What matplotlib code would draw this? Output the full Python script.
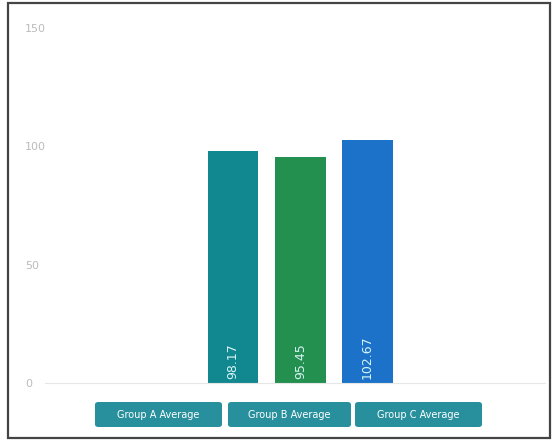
import matplotlib
matplotlib.use("Agg")
import matplotlib.pyplot as plt
from matplotlib.patches import Rectangle, FancyBboxPatch

categories = ["Group A Average", "Group B Average", "Group C Average"]
values = [98.17, 95.45, 102.67]
value_labels = ["98.17", "95.45", "102.67"]
colors = ["#11888f", "#23904f", "#1b72c8"]
yticks = [0, 50, 100, 150]

W, H = 557, 444
fig = plt.figure(figsize=(W / 100, H / 100), dpi=100)
fig.patch.set_facecolor("white")

# outer frame
fig.patches.append(Rectangle((8 / W, 1 - 438 / H), 542 / W, 435 / H,
                             transform=fig.transFigure, fill=False,
                             edgecolor="#444444", linewidth=1.6))

ax = fig.add_axes([45 / W, 1 - 383 / H, 500 / W, 355 / H])
x = list(range(len(values)))
ax.bar(x, values, width=0.75, color=colors)
for xi, v, lab in zip(x, values, value_labels):
    ax.text(xi, 1.5, lab, rotation=90, ha="center", va="bottom",
            color="#d8f4f6", fontsize=9)

ax.set_ylim(0, 150)
ax.set_xlim(-2.8, 4.64)
ax.set_yticks(yticks)
ax.set_yticklabels([str(t) for t in yticks], color="#bbbbbb", fontsize=8)
for lbl in ax.get_yticklabels():
    lbl.set_horizontalalignment("left")
ax.tick_params(axis="y", length=0, pad=14.5)
ax.set_xticks([])
for s in ["top", "right", "left"]:
    ax.spines[s].set_visible(False)
ax.spines["bottom"].set_color("#e6e6e6")

# legend-like labelled boxes
boxes = [(95, 222), (228, 351), (355, 482)]
for (x0, x1), name in zip(boxes, categories):
    fig.patches.append(FancyBboxPatch((x0 / W, 1 - 427 / H), (x1 - x0) / W, 25 / H,
                                      boxstyle="round,pad=0,rounding_size=0.006",
                                      transform=fig.transFigure,
                                      facecolor="#28909c", edgecolor="none"))
    fig.text((x0 + x1) / 2 / W, 1 - 414.5 / H, name, ha="center", va="center",
             color="white", fontsize=7)

fig.savefig("out.png", dpi=100)
